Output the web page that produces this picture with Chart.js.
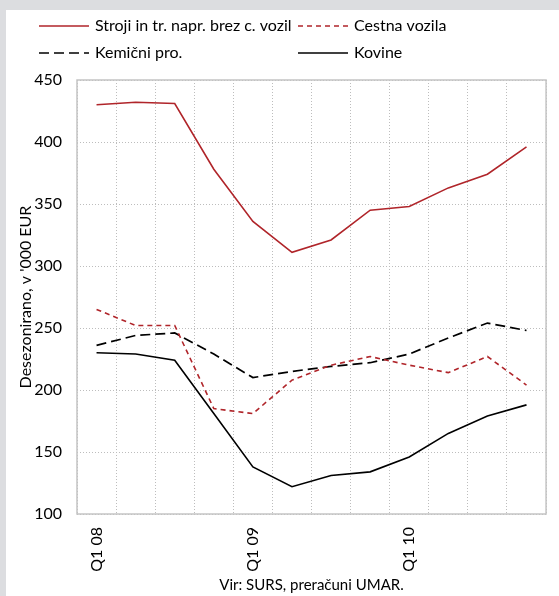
<!DOCTYPE html>
<html>
<head>
<meta charset="utf-8">
<script src="https://cdn.jsdelivr.net/npm/chart.js@4"></script>
<style>
  html, body { margin: 0; padding: 0; background: #dcdde0; }
  #wrap { position: absolute; left: 6px; top: 10px; width: 553px; height: 586px; background: #fff; }
</style>
</head>
<body>
<div id="wrap"><canvas id="chart" width="553" height="586"></canvas></div>
<script>
// quarters Q1 2008 - Q4 2010
const quarters = ['Q1 08', 'Q2 08', 'Q3 08', 'Q4 08',
                  'Q1 09', 'Q2 09', 'Q3 09', 'Q4 09',
                  'Q1 10', 'Q2 10', 'Q3 10', 'Q4 10'];
const stroji = [430, 432, 431, 378, 336, 311, 321, 345, 348, 363, 374, 396];
const cestna = [265, 252, 252, 185, 181, 208, 220, 227, 220, 214, 227, 204];
const kemicni = [236, 244, 246, 229, 210, 215, 219, 222, 229, 242, 254, 248];
const kovine = [230, 229, 224, 181, 138, 122, 131, 134, 146, 165, 179, 188];
const yTicks = [100, 150, 200, 250, 300, 350, 400, 450];

const RED = '#b0252a';
const FONT = 'Lato';

// legend in two columns above the plot
const legendGrid = {
    id: 'legendGrid',
    afterDraw(chart) {
        const ctx = chart.ctx;
        const cols = [33, 292];
        const rows = [16, 43];
        ctx.save();
        chart.data.datasets.forEach((ds, i) => {
            const x = cols[i % 2];
            const y = rows[Math.floor(i / 2)];
            ctx.beginPath();
            ctx.setLineDash(ds.borderDash || []);
            ctx.strokeStyle = ds.borderColor;
            ctx.lineWidth = ds.borderWidth;
            ctx.moveTo(x, y);
            ctx.lineTo(x + 50, y);
            ctx.stroke();
            ctx.setLineDash([]);
            ctx.fillStyle = '#000';
            ctx.font = '16px ' + FONT;
            ctx.textBaseline = 'middle';
            ctx.fillText(ds.label, x + 56, y);
        });
        ctx.restore();
    }
};

// solid frame round the plot area
const plotFrame = {
    id: 'plotFrame',
    beforeDatasetsDraw(chart) {
        const a = chart.chartArea;
        const ctx = chart.ctx;
        ctx.save();
        ctx.strokeStyle = '#c4c4c4';
        ctx.lineWidth = 1.5;
        ctx.strokeRect(a.left, a.top, a.right - a.left, a.bottom - a.top);
        ctx.restore();
    }
};

new Chart(document.getElementById('chart'), {
    type: 'line',
    data: {
        labels: quarters,
        datasets: [
            { label: 'Stroji in tr. napr. brez c. vozil', data: stroji, borderColor: RED, borderWidth: 1.6 },
            { label: 'Cestna vozila', data: cestna, borderColor: RED, borderWidth: 1.6, borderDash: [5, 4] },
            { label: 'Kemični pro.', data: kemicni, borderColor: '#000', borderWidth: 1.7, borderDash: [10, 5] },
            { label: 'Kovine', data: kovine, borderColor: '#000', borderWidth: 1.6 }
        ]
    },
    options: {
        responsive: false,
        animation: false,
        events: [],
        elements: { point: { radius: 0 }, line: { tension: 0 } },
        layout: { padding: { left: 6, right: 7, top: 70, bottom: 2 } },
        plugins: { legend: { display: false }, tooltip: { enabled: false } },
        scales: {
            x: {
                offset: true,
                grid: { offset: true, color: '#bdbdbd', lineWidth: 1, drawTicks: false },
                border: { display: false, dash: [1, 2] },
                ticks: {
                    autoSkip: false, maxRotation: 90, minRotation: 90, padding: 13,
                    color: '#000', font: { family: FONT, size: 16 },
                    callback: function(v, i) { return quarters[i].startsWith('Q1') ? quarters[i] : ''; }
                },
                title: {
                    display: true, text: 'Vir: SURS, preračuni UMAR.', color: '#000',
                    padding: { top: 0, bottom: 0 }, font: { family: FONT, size: 15 }
                },
                afterFit: s => { s.height = 80; }
            },
            y: {
                min: 100, max: 450,
                afterBuildTicks: s => { s.ticks = yTicks.map(v => ({ value: v })); },
                grid: { color: '#bdbdbd', lineWidth: 1, drawTicks: false },
                border: { display: false, dash: [1, 2] },
                ticks: { padding: 15, color: '#000', font: { family: FONT, size: 16 } },
                title: { display: true, text: "Desezonirano, v '000 EUR", color: '#000', font: { family: FONT, size: 16 } },
                afterFit: s => { s.width = 65; }
            }
        }
    },
    plugins: [legendGrid, plotFrame]
});
</script>
</body>
</html>
